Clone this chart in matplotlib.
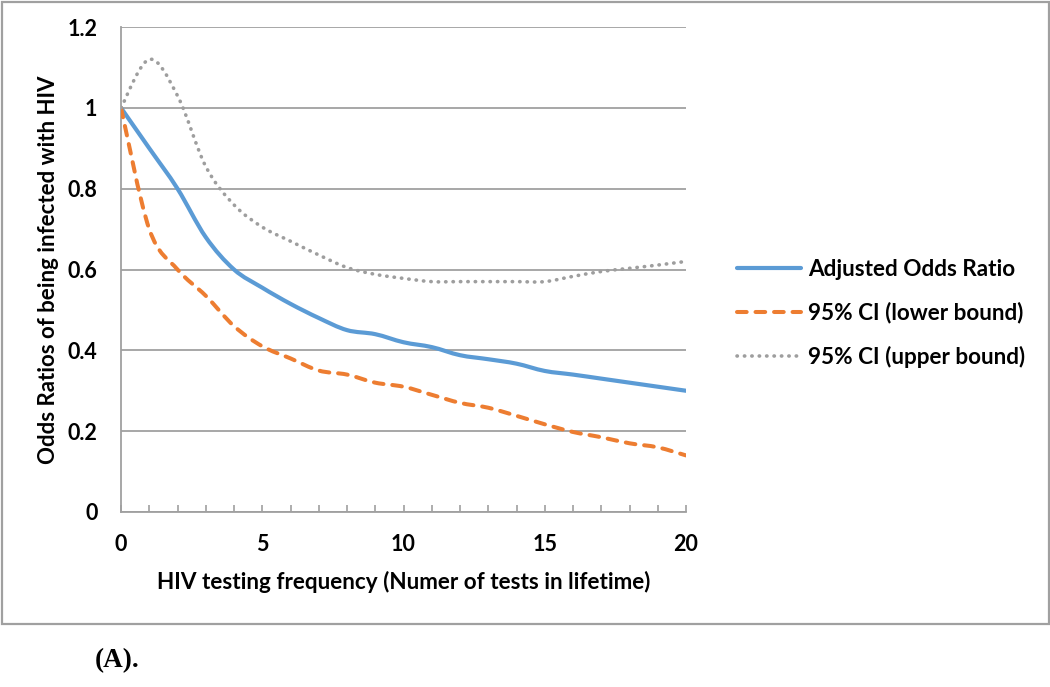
#!/usr/bin/env python3
"""Adjusted odds ratio of HIV infection vs lifetime testing frequency."""
import numpy as np
import matplotlib
matplotlib.use('Agg')
import matplotlib.pyplot as plt
from matplotlib.path import Path
from matplotlib.patches import PathPatch, Rectangle
from matplotlib.lines import Line2D

# number of tests in lifetime
tests = [0, 1, 2, 3, 4, 5, 6, 7, 8, 9, 10, 11, 12, 13, 14, 15, 16, 17, 18, 19, 20]
aor = [1.0, 0.90, 0.80, 0.68, 0.60, 0.555, 0.515, 0.48, 0.45, 0.44, 0.42,
       0.408, 0.388, 0.378, 0.367, 0.349, 0.34, 0.33, 0.32, 0.31, 0.30]
ci_low = [1.0, 0.70, 0.60, 0.535, 0.46, 0.41, 0.38, 0.35, 0.34, 0.32, 0.31,
          0.29, 0.27, 0.258, 0.238, 0.217, 0.198, 0.185, 0.17, 0.16, 0.14]
ci_high = [1.0, 1.12, 1.03, 0.855, 0.76, 0.705, 0.67, 0.636, 0.605, 0.588, 0.578,
           0.57, 0.57, 0.57, 0.57, 0.57, 0.583, 0.595, 0.603, 0.611, 0.62]
labels = ['Adjusted Odds Ratio', '95% CI (lower bound)', '95% CI (upper bound)']

BLUE, ORANGE, GRAY = '#5B9BD5', '#ED7D31', '#9E9E9E'
FONT = 'Lato'
plt.rcParams['font.family'] = [FONT, 'DejaVu Sans']


def smooth_path(x, y):
    # Excel-style smoothed line: cubic Bezier through each data point
    p = np.column_stack([x, y]).astype(float)
    ext = np.vstack([p[0], p, p[-1]])
    verts = [p[0]]
    codes = [Path.MOVETO]
    for i in range(len(p) - 1):
        a, b, c, d = ext[i], ext[i + 1], ext[i + 2], ext[i + 3]
        verts += [b + (c - a) / 6, c - (d - b) / 6, c]
        codes += [Path.CURVE4] * 3
    return Path(verts, codes)


fig = plt.figure(figsize=(10.5, 6.87), dpi=100)
W, H = 1050, 687
ax = fig.add_axes([121 / W, 1 - 512 / H, 565 / W, 485 / H])

styles = [
    dict(color=BLUE, lw=3.0, ls='-', cap='round'),
    dict(color=ORANGE, lw=2.9, ls=(0, (2.4, 2.2)), cap='round'),
    dict(color=GRAY, lw=2.6, ls=(0, (0.1, 1.95)), cap='round'),
]
handles = []
for ys, st, lab in zip([aor, ci_low, ci_high], styles, labels):
    patch = PathPatch(smooth_path(tests, ys), fill=False, edgecolor=st['color'],
                      lw=st['lw'], linestyle=st['ls'], capstyle=st['cap'],
                      joinstyle='round', zorder=3)
    ax.add_patch(patch)
    handles.append(Line2D([], [], color=st['color'], lw=st['lw'], linestyle=st['ls'],
                          dash_capstyle=st['cap'], solid_capstyle='round', label=lab))

ax.set_xlim(0, 20)
ax.set_ylim(0, 1.2)
yt = np.round(np.arange(0, 1.21, 0.2), 1)
ax.set_yticks(yt)
ax.set_yticklabels(['0' if v == 0 else ('1' if v == 1 else f'{v:g}') for v in yt])
ax.set_xticks(range(0, 21))
ax.set_xticklabels([str(v) if v % 5 == 0 else '' for v in range(0, 21)])
ax.yaxis.grid(True, color='#A0A0A0', lw=1.3)
ax.set_axisbelow(True)
for s in ['top', 'right']:
    ax.spines[s].set_visible(False)
for s in ['left', 'bottom']:
    ax.spines[s].set_color('#A0A0A0')
    ax.spines[s].set_linewidth(1.3)
ax.tick_params(axis='x', direction='in', length=5, color='#A0A0A0', width=1.2,
               pad=16, labelsize=15.5)
ax.tick_params(axis='y', length=0, pad=17, labelsize=15.5)
for t in ax.get_xticklabels() + ax.get_yticklabels():
    t.set_fontweight('bold')

ax.set_xlabel('HIV testing frequency (Numer of tests in lifetime)', fontsize=16.2,
              fontweight='bold', labelpad=11)
ax.set_ylabel('Odds Ratios of being infected with HIV', fontsize=16,
              fontweight='bold', labelpad=6)

fig.legend(handles=handles, loc='upper left', bbox_to_anchor=(737 / W, 1 - 259 / H),
           frameon=False, handlelength=2.85, handletextpad=0.32,
           labelspacing=0.98, borderpad=0, borderaxespad=0,
           prop=dict(family=FONT, weight='bold', size=16.2))

fig.patches.append(Rectangle((1.5 / W, 1 - 624 / H), 1047 / W, 622.5 / H,
                             transform=fig.transFigure, fill=False,
                             edgecolor='#A0A0A0', lw=1.6))
fig.text(95 / W, 1 - 661 / H, '(A).', family='Liberation Serif', fontweight='bold',
         fontsize=19.5, va='center', ha='left')

fig.savefig('out.png', dpi=100)
